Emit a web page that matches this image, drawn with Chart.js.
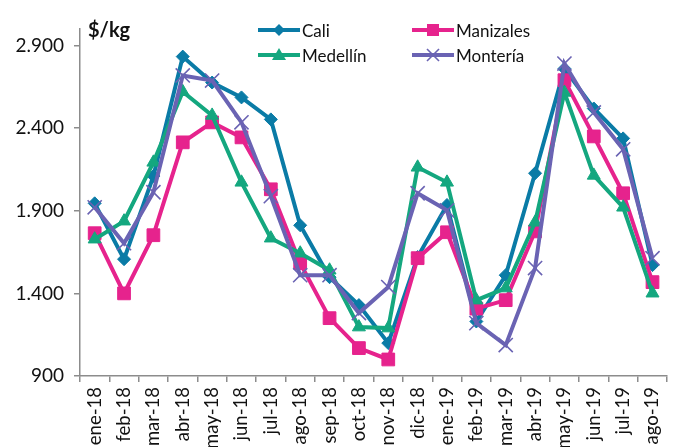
<!DOCTYPE html>
<html>
<head>
<meta charset="utf-8">
<script src="https://cdn.jsdelivr.net/npm/chart.js@4"></script>
<style>
  html, body { margin: 0; padding: 0; background: #fff; overflow: hidden; }
  body { width: 675px; height: 447px; position: relative; font-family: Lato, "DejaVu Sans", sans-serif; color: #111; }
  #wrap { position: absolute; left: 0; top: 0; width: 680px; height: 480px; }
  #unit { position: absolute; left: 88px; top: 17px; font-weight: bold; font-size: 20px; }
  .leg { position: absolute; display: flex; align-items: center; font-size: 17px; height: 20px; }
  .leg svg { margin-right: 2px; }
</style>
</head>
<body>
<div id="wrap"><canvas id="chart"></canvas></div>
<div id="unit">$/kg</div>
<div id="legend"></div>
<script>
const months = ["ene-18", "feb-18", "mar-18", "abr-18", "may-18", "jun-18", "jul-18", "ago-18", "sep-18", "oct-18",
  "nov-18", "dic-18", "ene-19", "feb-19", "mar-19", "abr-19", "may-19", "jun-19", "jul-19", "ago-19"];

const cali      = [1945, 1607, 2110, 2833, 2676, 2586, 2453, 1812, 1498, 1329, 1099, 1620, 1935, 1230, 1510, 2127, 2760, 2519, 2338, 1571];
const manizales = [1764, 1400, 1752, 2314, 2435, 2344, 2030, 1583, 1250, 1069, 1000, 1613, 1770, 1308, 1359, 1775, 2690, 2350, 2006, 1468];
const medellin  = [1728, 1837, 2193, 2620, 2477, 2072, 1734, 1643, 1540, 1196, 1190, 2163, 2072, 1359, 1432, 1830, 2616, 2114, 1921, 1401];
const monteria  = [1921, 1704, 2012, 2719, 2688, 2435, 1988, 1510, 1510, 1281, 1438, 2006, 1903, 1220, 1087, 1553, 2791, 2495, 2272, 1613];

const yTicks = [900, 1400, 1900, 2400, 2900];

const series = [
  { name: "Cali",      data: cali,      color: "#0a7ba6", style: "rectRot",  r: 6.5, order: 4 },
  { name: "Manizales", data: manizales, color: "#e6238d", style: "rect",     r: 9,   order: 3 },
  { name: "Medellín",  data: medellin,  color: "#14a77f", style: "triangle", r: 7.5, order: 2 },
  { name: "Montería",  data: monteria,  color: "#6a63b3", style: "crossRot", r: 10,  order: 1 }
];

// number format with dot as thousands separator
function fmt(v) {
  return String(v).replace(/\B(?=(\d{3})+(?!\d))/g, ".");
}

const ctx = document.getElementById("chart").getContext("2d");
const chart = new Chart(ctx, {
  type: "line",
  data: {
    labels: months,
    datasets: series.map(s => ({
      label: s.name,
      data: s.data,
      order: s.order,
      borderColor: s.color,
      backgroundColor: s.color,
      borderWidth: 4,
      tension: 0,
      pointStyle: s.style,
      pointRadius: s.r,
      pointHoverRadius: s.r,
      pointBackgroundColor: s.color,
      pointBorderColor: s.color,
      pointBorderWidth: s.style === "crossRot" ? 1.6 : 1
    }))
  },
  options: {
    responsive: true,
    maintainAspectRatio: false,
    animation: false,
    layout: { padding: { top: 29, right: 4, left: 0, bottom: 0 } },
    plugins: { legend: { display: false }, tooltip: { enabled: false } },
    scales: {
      x: {
        offset: true,
        grid: { offset: true, drawOnChartArea: false, drawTicks: true, tickLength: 6, color: "#8c8c8c", lineWidth: 1.5 },
        border: { color: "#8c8c8c", width: 1.5 },
        ticks: {
          autoSkip: false, minRotation: 90, maxRotation: 90, padding: 5,
          color: "#111", font: { family: "Lato", size: 18.5 }
        },
        afterFit: scale => { scale.height = 104; }
      },
      y: {
        min: 900,
        max: 3000,
        afterBuildTicks: scale => { scale.ticks = yTicks.map(v => ({ value: v })); },
        grid: { drawOnChartArea: false, drawTicks: true, tickLength: 6, color: "#8c8c8c", lineWidth: 1.5 },
        border: { color: "#8c8c8c", width: 1.5 },
        ticks: {
          padding: 10, color: "#111", font: { family: "Lato", size: 19 },
          callback: v => fmt(v)
        },
        afterFit: scale => { scale.width = 80; }
      }
    }
  }
});

// legend in two columns, line + marker like the original
function icon(s) {
  const c = s.color;
  let m = "";
  if (s.style === "rectRot") m = `<polygon points="21,2 27,8 21,14 15,8" fill="${c}"/>`;
  if (s.style === "rect") m = `<rect x="15" y="2" width="12" height="12" fill="${c}"/>`;
  if (s.style === "triangle") m = `<polygon points="21,1 28,13 14,13" fill="${c}"/>`;
  if (s.style === "crossRot") m = `<line x1="15" y1="2" x2="27" y2="14" stroke="${c}" stroke-width="1.6"/><line x1="27" y1="2" x2="15" y2="14" stroke="${c}" stroke-width="1.6"/>`;
  return `<svg width="42" height="16"><line x1="0" y1="8" x2="42" y2="8" stroke="${c}" stroke-width="4"/>${m}</svg>`;
}
const legPos = [[258, 20], [412, 20], [258, 45], [412, 45]];
document.getElementById("legend").innerHTML = series.map((s, i) =>
  `<div class="leg" style="left:${legPos[i][0]}px;top:${legPos[i][1]}px">${icon(s)}<span>${s.name}</span></div>`
).join("");
</script>
</body>
</html>
